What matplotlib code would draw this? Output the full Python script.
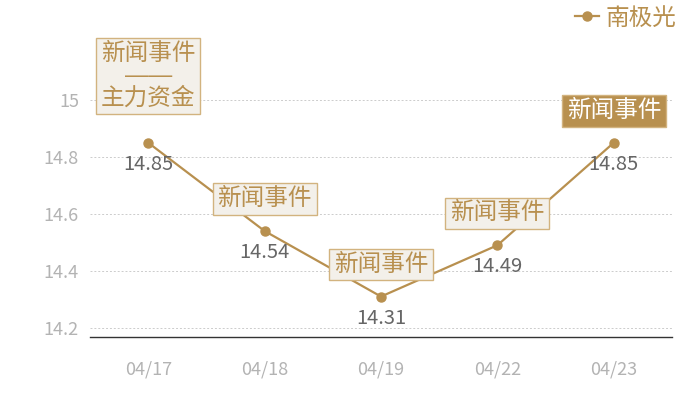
import matplotlib
matplotlib.use("Agg")
import matplotlib.pyplot as plt

plt.rcParams['font.family'] = ['Noto Sans CJK SC', 'DejaVu Sans']

dates = ["04/17", "04/18", "04/19", "04/22", "04/23"]
values = [14.85, 14.54, 14.31, 14.49, 14.85]
events = ["新闻事件\n——\n主力资金", "新闻事件", "新闻事件", "新闻事件", "新闻事件"]
highlight = [False, False, False, False, True]
series_name = "南极光"
yticks = [14.2, 14.4, 14.6, 14.8, 15.0]
ytick_labels = ["14.2", "14.4", "14.6", "14.8", "15"]

GOLD = "#b8904f"
FILL = "#f3f0ea"
EDGE = "#d2b37f"

fig = plt.figure(figsize=(7, 4), dpi=100)
ax = fig.add_axes([90/700, 1-337/400, (672-90)/700, (337-43)/400])
x = list(range(len(dates)))

ax.plot(x, values, color=GOLD, lw=1.6, marker='o', ms=6.5, zorder=3, label=series_name)
ax.set_xlim(-0.5, len(dates) - 0.5)
ax.set_ylim(14.168, 15.2)
ax.set_yticks(yticks)
ax.set_yticklabels(ytick_labels)
ax.set_xticks(x)
ax.set_xticklabels(dates)
ax.tick_params(axis='both', length=0, labelsize=13, labelcolor="#b3b3b3")
ax.tick_params(axis='x', pad=17)
ax.tick_params(axis='y', pad=8)
ax.grid(axis='y', color="#cccccc", ls=(0, (2, 2)), lw=0.7)
ax.set_axisbelow(True)
for s in ['top', 'right', 'left']:
    ax.spines[s].set_visible(False)
ax.spines['bottom'].set_color("#333333")
ax.spines['bottom'].set_linewidth(1.0)

for xi, v in zip(x, values):
    ax.annotate(f"{v:.2f}", (xi, v), xytext=(0, -8), textcoords='offset points',
                ha='center', va='top', fontsize=14.5, color="#666666", zorder=4)

for xi, v, ev, hl in zip(x, values, events, highlight):
    if hl:
        bbox = dict(boxstyle='square,pad=0.2', fc=GOLD, ec=EDGE, lw=1)
        col = "white"
    else:
        bbox = dict(boxstyle='square,pad=0.2', fc=FILL, ec=EDGE, lw=1)
        col = GOLD
    multi = "\n" in ev
    ax.annotate(ev, (xi, v), xytext=(0, 24 if multi else 15), textcoords='offset points',
                ha='center', va='bottom', fontsize=17, color=col,
                family=['Liberation Sans', 'Noto Sans CJK SC'],
                linespacing=1.0, bbox=bbox, zorder=5, annotation_clip=False)

leg = fig.legend(loc='upper right', bbox_to_anchor=(0.99, 1.025), frameon=False,
                 fontsize=17, handlelength=1.0, handletextpad=0.3, borderaxespad=0.3)
for t in leg.get_texts():
    t.set_color(GOLD)

fig.savefig("out.png", dpi=100)
